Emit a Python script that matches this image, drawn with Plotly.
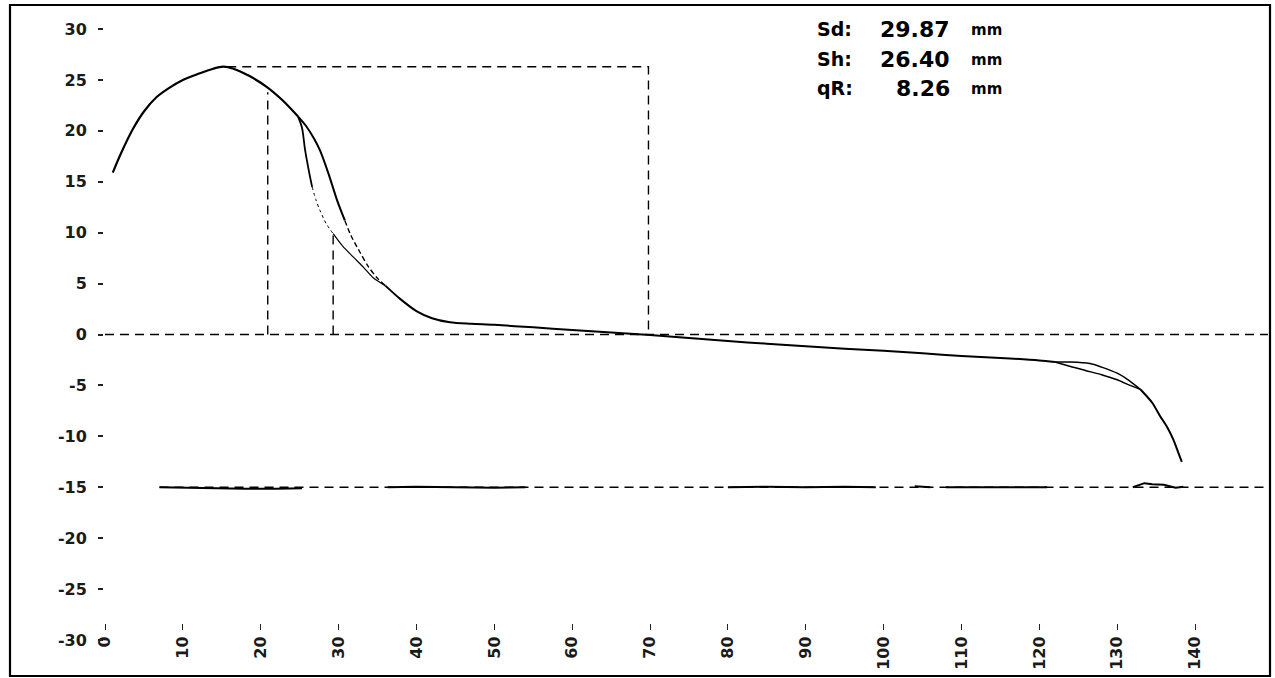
import plotly.graph_objects as go

# ---------------- data ----------------
rise_x = [1.0, 2.0, 3.6, 5.0, 6.6, 8.2, 10.0, 12.0, 13.9, 15.2, 16.5, 18.5, 20.8, 22.8, 24.8]
rise_y = [15.9, 17.7, 20.2, 21.9, 23.3, 24.2, 25.0, 25.6, 26.1, 26.3, 26.1, 25.4, 24.3, 23.0, 21.4]

bB_solid_x = [24.8, 25.8, 26.8, 27.6, 28.7, 29.8, 30.8]
bB_solid_y = [21.4, 20.5, 19.3, 18.1, 15.8, 13.2, 11.2]
bB_dash_x = [30.8, 31.6, 32.8, 33.8, 34.9, 36.0]
bB_dash_y = [11.2, 9.7, 8.0, 6.7, 5.6, 4.8]

bA_solid_x = [24.8, 25.3, 25.7, 26.2, 26.6]
bA_solid_y = [21.4, 20.3, 18.1, 16.0, 14.5]
bA_dot_x = [26.6, 27.1, 27.6, 28.4, 29.3]
bA_dot_y = [14.5, 13.2, 12.2, 10.9, 9.9]
bA_thin_x = [29.3, 30.5, 31.9, 33.2, 34.4, 36.0]
bA_thin_y = [9.9, 8.7, 7.6, 6.6, 5.6, 4.8]

tail_x = [36.0, 37.9, 40.0, 42.0, 44.3, 47.0, 50.0, 55.0, 60.0, 65.0, 70.0, 75.0,
          80.0, 85.0, 90.0, 95.0, 100.0, 105.0, 110.0, 115.0, 120.0, 122.0]
tail_y = [4.8, 3.5, 2.3, 1.6, 1.2, 1.05, 0.95, 0.7, 0.45, 0.2, -0.05, -0.35,
          -0.65, -0.9, -1.15, -1.4, -1.6, -1.85, -2.1, -2.3, -2.55, -2.7]

tail_up_x = [122.0, 124.0, 126.5, 128.0, 130.0, 131.5, 133.0]
tail_up_y = [-2.7, -2.7, -2.85, -3.2, -3.8, -4.5, -5.4]
tail_lo_x = [122.0, 124.0, 126.0, 128.0, 130.0, 131.5, 133.0]
tail_lo_y = [-2.7, -3.15, -3.55, -3.95, -4.45, -4.95, -5.4]

drop_x = [133.0, 134.5, 135.5, 136.5, 137.2, 137.8, 138.3]
drop_y = [-5.4, -6.7, -8.0, -9.2, -10.3, -11.5, -12.5]

base_x = [7, 10, 14, 18, 22, 25.3, None, 36.3, 40, 45, 50, 54, None,
          80, 85, 90, 95, 99, None, 104, 106, None, 108, 112, 116, 121, None,
          132, 133.5, 134.5, 136, 137.5, 138.5]
base_y = [-15.0, -15.05, -15.15, -15.15, -15.15, -15.1, None, -15.0, -14.95, -15.0, -15.05, -15.0, None,
          -15.0, -14.95, -15.0, -14.95, -15.0, None, -14.9, -15.0, None, -15.0, -15.0, -14.95, -15.0, None,
          -15.0, -14.6, -14.7, -14.75, -15.05, -14.95]

zero_x = [0, 149.4]
zero_y = [0, 0]
ref15_x = [7, 149.4]
ref15_y = [-15, -15]
guide_x = [20.9, 20.9, None, 15.7, 69.8, 69.8, None, 29.3, 29.3]
guide_y = [0, 23.8, None, 26.3, 26.3, 0, None, 0, 9.9]

x_tickvals = [0, 10, 20, 30, 40, 50, 60, 70, 80, 90, 100, 110, 120, 130, 140]
x_ticktext = ["0", "10", "20", "30", "40", "50", "60", "70", "80", "90", "100", "110", "120", "130", "140"]
y_tickvals = [30, 25, 20, 15, 10, 5, 0, -5, -10, -15, -20, -25, -30]
y_ticktext = ["30", "25", "20", "15", "10", "5", "0", "-5", "-10", "-15", "-20", "-25", "-30"]

info_labels = ["Sd:", "Sh:", "qR:"]
info_values = ["29.87", "26.40", "8.26"]
info_units = ["mm", "mm", "mm"]

# ---------------- layout geometry (pixels) ----------------
W, H = 1275, 678
ML, MR, MT, MB = 104, 7, 29, 38
PW, PH = W - ML - MR, H - MT - MB


def px(xp):
    return (xp - ML) / PW


def py(yp):
    return 1 - (yp - MT) / PH


fig = go.Figure()


def add_line(x, y, width=2.0, dash="solid", smooth=True):
    fig.add_trace(go.Scatter(x=x, y=y, mode="lines", connectgaps=False,
                             line=dict(color="black", width=width, dash=dash,
                                       shape="spline" if smooth else "linear",
                                       smoothing=0.8),
                             hoverinfo="skip", showlegend=False))


DASH = "9px,6px"
add_line(zero_x, zero_y, 1.4, DASH, False)
add_line(ref15_x, ref15_y, 1.4, DASH, False)
add_line(guide_x, guide_y, 1.4, DASH, False)

add_line(rise_x, rise_y, 2.2)
add_line(bB_solid_x, bB_solid_y, 2.0)
add_line(bB_dash_x, bB_dash_y, 1.4, "5px,3px")
add_line(bA_solid_x, bA_solid_y, 1.8)
add_line(bA_dot_x, bA_dot_y, 1.0, "dot")
add_line(bA_thin_x, bA_thin_y, 1.2)
add_line(tail_x, tail_y, 2.0)
add_line(tail_up_x, tail_up_y, 1.5)
add_line(tail_lo_x, tail_lo_y, 1.5)
add_line(drop_x, drop_y, 2.0)
add_line(base_x, base_y, 2.0, "solid", False)

tick_font = dict(family="DejaVu Sans", size=16, color="#1a1a1a", weight="bold")

fig.update_xaxes(range=[-0.13, 149.37], tickvals=x_tickvals, ticktext=x_ticktext,
                 tickangle=-90, ticks="outside", ticklen=6, tickwidth=1.2, tickcolor="#222",
                 showline=False, showgrid=False, zeroline=False, anchor="free",
                 position=(640 - 623) / PH, tickfont=tick_font)
fig.update_yaxes(range=[-30, 30], tickvals=y_tickvals, ticktext=y_ticktext,
                 ticks="outside", ticklen=5, tickwidth=1.5, tickcolor="#222",
                 showline=False, showgrid=False, zeroline=False,
                 ticklabelstandoff=8, tickfont=tick_font)

ann = []
row_y = [29, 59, 88]
for lab, val, unit, ry in zip(info_labels, info_values, info_units, row_y):
    ann.append(dict(x=px(815), y=py(ry), xref="paper", yref="paper", text=lab, showarrow=False,
                    xanchor="left", yanchor="middle",
                    font=dict(family="DejaVu Sans", size=19, color="black", weight="bold")))
    ann.append(dict(x=px(952), y=py(ry), xref="paper", yref="paper", text=val, showarrow=False,
                    xanchor="right", yanchor="middle",
                    font=dict(family="DejaVu Sans", size=22, color="black", weight="bold")))
    ann.append(dict(x=px(969), y=py(ry + 1), xref="paper", yref="paper", text=unit, showarrow=False,
                    xanchor="left", yanchor="middle",
                    font=dict(family="DejaVu Sans", size=15, color="black", weight="bold")))

fig.update_layout(
    width=W, height=H, autosize=False,
    margin=dict(l=ML, r=MR, t=MT, b=MB, pad=0),
    paper_bgcolor="white", plot_bgcolor="white",
    annotations=ann,
    shapes=[dict(type="rect", xref="paper", yref="paper",
                 x0=px(10), x1=px(1270), y0=py(676), y1=py(5),
                 line=dict(color="black", width=2.2), fillcolor="rgba(0,0,0,0)", layer="above")],
)

fig.write_html("out.html", config={"displayModeBar": False},
               post_script="document.body.style.margin='0';document.body.style.overflow='hidden';")
